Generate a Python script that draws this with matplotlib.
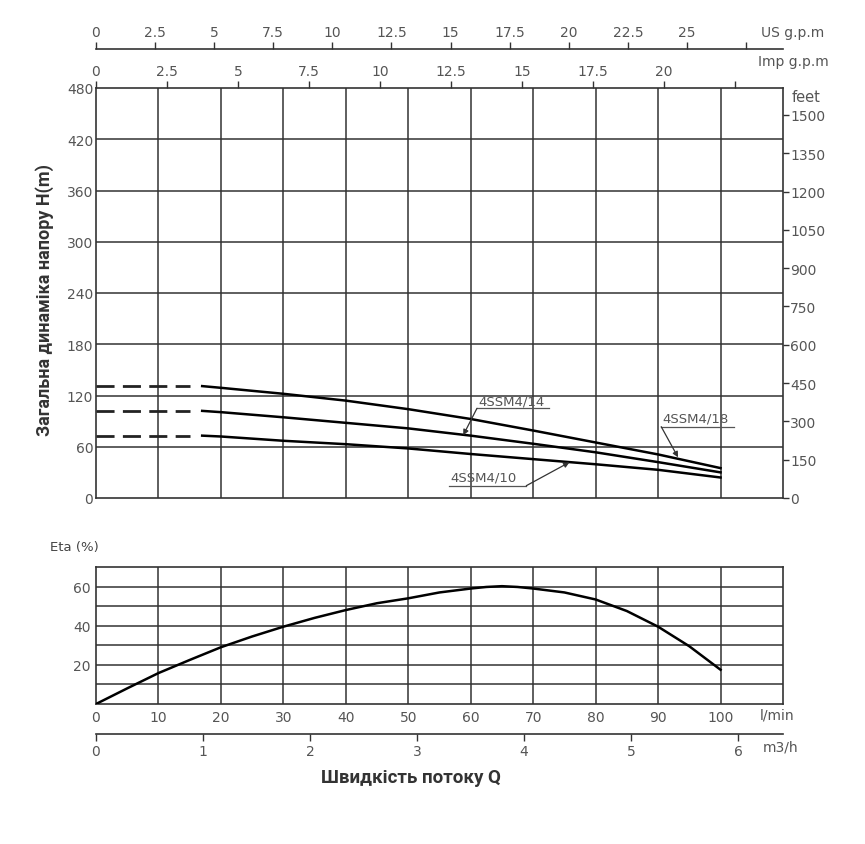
"""Pump performance chart: head and efficiency curves for 4SSM4 series."""

import matplotlib.pyplot as plt
import numpy as np

# flow values (l/min) where the solid head curves were read
q_head = [17, 20, 30, 40, 50, 60, 70, 80, 90, 100]
h_18 = [131, 129, 122, 114, 104, 92.5, 79, 65, 51, 35]
h_14 = [102, 100.5, 94.5, 88, 81.5, 73, 63.5, 53.5, 42, 30]
h_10 = [73, 72, 67, 63, 58, 51.5, 45.5, 39.5, 33, 24]
q_dash = [0, 15]

# efficiency curve
q_eta = [0, 5, 10, 15, 20, 25, 30, 35, 40, 45, 50, 55, 60, 62.5, 65, 67.5, 70, 75, 80, 85, 90, 95, 100]
eta = [0, 8, 15.8, 22.5, 29, 34.5, 39.5, 44, 48, 51.5, 54, 57, 59, 59.8, 60.2, 59.8, 59, 57, 53.4, 47.5, 39.5, 29.5, 17.5]

# model labels: text position, underline end, arrow tip (l/min, m)
models = ["4SSM4/14", "4SSM4/18", "4SSM4/10"]
label_xy = [(61.2, 106.5), (90.7, 85.5), (56.8, 16.5)]
line_from = [(61.0, 105), (90.5, 83.5), (68.9, 14.4)]
line_to = [(72.6, 105), (102.2, 83.5), (56.6, 14.4)]
arrow_tip = [(58.8, 73.5), (93.2, 47.6), (75.8, 41.8)]

# axis scales
US_GPM = 0.2642
IMP_GPM = 0.22
FT_PER_M = 3.345
M3H_SPAN = 6.42
us_ticks = np.arange(0, 28.0, 2.5)
us_labels = ["0", "2.5", "5", "7.5", "10", "12.5", "15", "17.5", "20", "22.5", "25", ""]
imp_ticks = np.arange(0, 23.0, 2.5)
imp_labels = ["0", "2.5", "5", "7.5", "10", "12.5", "15", "17.5", "20", ""]
feet_ticks = np.arange(0, 1501, 150)
m3h_ticks = np.arange(0, 7)

GRID = "#333333"
TXT = "#555555"
W, H = 865, 845

plt.rcParams["font.family"] = ["DejaVu Sans"]

fig = plt.figure(figsize=(W / 100, H / 100), dpi=100)


def frac(x0, y0, x1, y1):
    return [x0 / W, 1 - y1 / H, (x1 - x0) / W, (y1 - y0) / H]


# ---- head chart ----
ax = fig.add_axes(frac(96, 89, 783, 499))
ax.set_xlim(0, 110)
ax.set_ylim(0, 480)
for q in range(10, 101, 10):
    ax.axvline(q, color=GRID, lw=1.1, zorder=1)
for h in range(60, 421, 60):
    ax.axhline(h, color=GRID, lw=1.1, zorder=1)
for s in ax.spines.values():
    s.set_color(GRID)
    s.set_linewidth(1.2)
ax.set_xticks([])
ax.set_yticks(range(0, 481, 60))
ax.tick_params(axis="y", length=0, pad=2, labelsize=10, labelcolor=TXT)

for h in (h_18, h_14, h_10):
    ax.plot(q_head, h, color="black", lw=1.8, zorder=3)
    ax.plot(q_dash, [h[0], h[0]], color="#222222", lw=2.0, dashes=(6.5, 3.0), zorder=3)

for name, txy, p0, p1, tip in zip(models, label_xy, line_from, line_to, arrow_tip):
    ax.text(txy[0], txy[1], name, fontsize=9.5, color=TXT, va="bottom", ha="left", zorder=4)
    ax.plot([p0[0], p1[0]], [p0[1], p1[1]], color=TXT, lw=0.9, zorder=4)
    ax.annotate("", xy=tip, xytext=p0,
                arrowprops=dict(arrowstyle="-|>", color="#333333", lw=0.9,
                                mutation_scale=8, shrinkA=0, shrinkB=0), zorder=4)

imp = ax.secondary_xaxis("top", functions=(lambda q: q * IMP_GPM, lambda g: g / IMP_GPM))
imp.set_xticks(imp_ticks, imp_labels)
imp.tick_params(direction="out", length=5, width=1, color=GRID, labelsize=10, labelcolor=TXT, pad=2)
imp.spines["top"].set_visible(False)

feet = ax.secondary_yaxis("right", functions=(lambda m: m * FT_PER_M, lambda f: f / FT_PER_M))
feet.set_yticks(feet_ticks)
feet.tick_params(direction="out", length=4, width=1, color=GRID, labelsize=10, labelcolor=TXT, pad=1)
feet.spines["right"].set_visible(False)

# ---- US gpm scale ----
us = fig.add_axes(frac(96, 50, 783, 50))
us.set_xlim(0, 110 * US_GPM)
us.set_yticks([])
for side in ("left", "right", "bottom"):
    us.spines[side].set_visible(False)
us.spines["top"].set_color(GRID)
us.spines["top"].set_linewidth(1.2)
us.xaxis.tick_top()
us.set_xticks(us_ticks, us_labels)
us.tick_params(axis="x", direction="out", length=5, width=1, color=GRID, labelsize=10, labelcolor=TXT, pad=2)
us.patch.set_visible(False)

# ---- efficiency chart ----
ae = fig.add_axes(frac(96, 568, 783, 705))
ae.set_xlim(0, 110)
ae.set_ylim(0, 70)
for q in range(10, 101, 10):
    ae.axvline(q, color=GRID, lw=1.1, zorder=1)
for e in range(10, 61, 10):
    ae.axhline(e, color=GRID, lw=1.1, zorder=1)
for s in ae.spines.values():
    s.set_color(GRID)
    s.set_linewidth(1.2)
ae.plot(q_eta, eta, color="black", lw=1.8, zorder=3)
ae.set_yticks([20, 40, 60])
ae.set_xticks(range(0, 101, 10))
ae.tick_params(length=0, labelsize=10, labelcolor=TXT, pad=4)

# ---- m3/h scale ----
am = fig.add_axes(frac(96, 735, 783, 735))
am.set_xlim(0, M3H_SPAN)
am.set_yticks([])
for side in ("left", "right", "top"):
    am.spines[side].set_visible(False)
am.spines["bottom"].set_color(GRID)
am.spines["bottom"].set_linewidth(1.2)
am.set_xticks(m3h_ticks)
am.tick_params(axis="x", direction="out", length=5, width=1, color=GRID, labelsize=10, labelcolor=TXT, pad=2)
am.patch.set_visible(False)

# ---- texts ----
fig.text(761 / W, 1 - 33 / H, "US g.p.m", fontsize=10, color=TXT, va="center", ha="left")
fig.text(758 / W, 1 - 62 / H, "Imp g.p.m", fontsize=10, color=TXT, va="center", ha="left")
fig.text(792 / W, 1 - 97 / H, "feet", fontsize=10.5, color=TXT, va="center", ha="left")
fig.text(760 / W, 1 - 716 / H, "l/min", fontsize=10, color=TXT, va="center", ha="left")
fig.text(763 / W, 1 - 748 / H, "m3/h", fontsize=10, color=TXT, va="center", ha="left")
fig.text(50 / W, 1 - 547 / H, "Eta (%)", fontsize=9.5, color="#444444", va="center", ha="left")
fig.text(45 / W, 1 - 300 / H, "Загальна динаміка напору H(m)", fontsize=13, fontweight="bold",
         family="Roboto", color="#333333", rotation=90, va="center", ha="center")
fig.text(411 / W, 1 - 778 / H, "Швидкість потоку Q", fontsize=13.5, fontweight="bold",
         family="Roboto", color="#333333", va="center", ha="center")

fig.savefig("out.png", dpi=100)
plt.close(fig)
